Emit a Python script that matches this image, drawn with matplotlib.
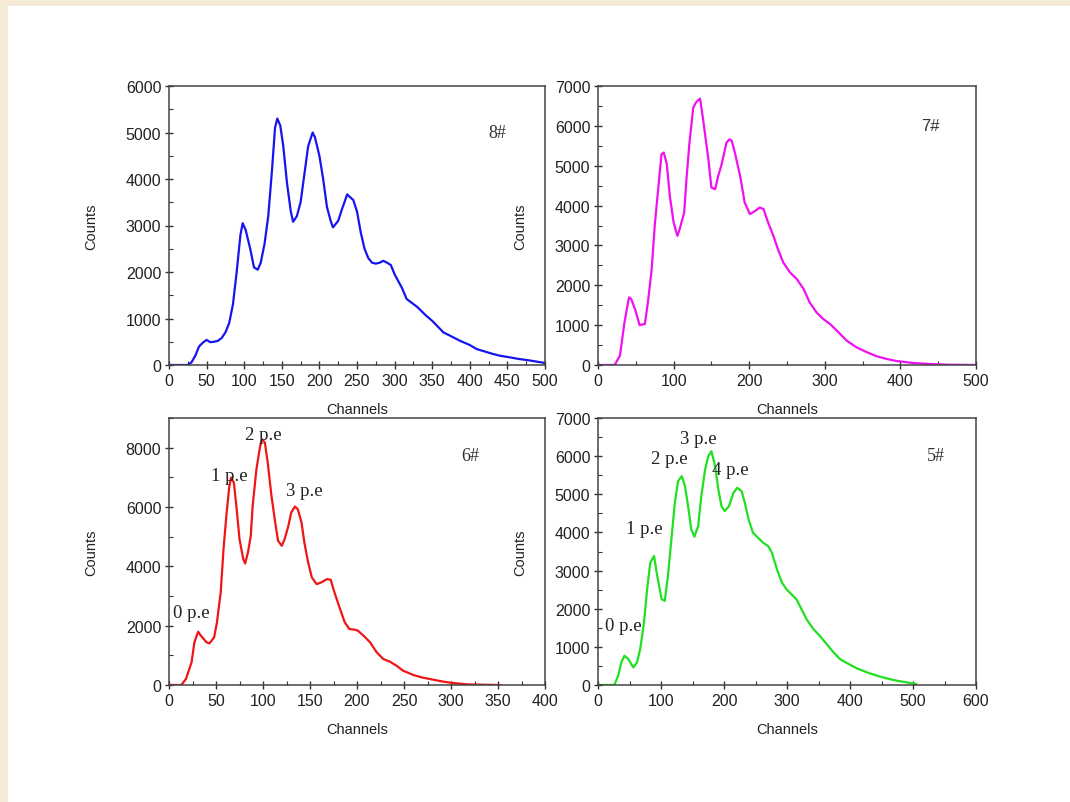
import matplotlib.pyplot as plt
from matplotlib.patches import Rectangle
from matplotlib.ticker import MultipleLocator

plt.rcParams['font.family'] = ['Liberation Sans', 'DejaVu Sans']

# panel 8# (top left)
ch8 = [0, 25, 30, 35, 40, 45, 50, 55, 60, 65, 70, 75, 80, 85, 90, 95, 98, 102, 108, 113,
       118, 122, 127, 132, 137, 141, 144, 148, 152, 157, 162, 165, 170, 175, 180, 185, 191,
       194, 200, 205, 210, 215, 218, 225, 230, 237, 240, 245, 250, 255, 260, 265, 270, 275,
       280, 285, 290, 295, 300, 310, 316, 330, 342, 350, 365, 375, 387, 400, 409, 420, 431,
       440, 453, 465, 476, 490, 500]
cnt8 = [0, 0, 60, 200, 400, 480, 540, 490, 500, 520, 580, 700, 900, 1300, 2000, 2800, 3050,
        2900, 2500, 2100, 2050, 2200, 2600, 3200, 4200, 5100, 5300, 5150, 4700, 3900, 3300,
        3080, 3200, 3500, 4100, 4700, 5000, 4900, 4500, 4000, 3400, 3100, 2960, 3100, 3350,
        3670, 3620, 3550, 3300, 2850, 2500, 2300, 2200, 2180, 2200, 2240, 2200, 2150, 1950,
        1650, 1420, 1250, 1060, 950, 700, 620, 520, 430, 343, 290, 236, 200, 165, 130, 107,
        70, 43]

# panel 7# (top right)
ch7 = [0, 22, 29, 35, 41, 44, 49, 55, 62, 66, 71, 75, 80, 84, 87, 91, 95, 100, 105, 108,
       114, 117, 121, 126, 130, 135, 139, 146, 150, 155, 159, 163, 170, 174, 177, 181, 188,
       194, 201, 208, 214, 219, 225, 232, 238, 245, 254, 263, 272, 280, 289, 298, 307, 316,
       329, 342, 356, 369, 382, 395, 417, 439, 462, 500]
cnt7 = [0, 0, 234, 1069, 1696, 1654, 1400, 1000, 1030, 1570, 2400, 3490, 4494, 5288, 5330,
        5040, 4244, 3576, 3241, 3408, 3826, 4662, 5580, 6458, 6600, 6683, 6165, 5163, 4453,
        4411, 4745, 4996, 5580, 5664, 5622, 5330, 4745, 4077, 3784, 3868, 3952, 3910, 3576,
        3241, 2907, 2573, 2322, 2155, 1905, 1570, 1320, 1153, 1027, 860, 610, 443, 317, 217,
        150, 100, 50, 25, 8, 0]

# panel 6# (bottom left)
ch6 = [0, 13, 18, 24, 27, 31, 34, 40, 43, 48, 51, 55, 58, 61, 64, 66, 69, 72, 75, 79, 81,
       84, 87, 89, 93, 97, 99, 102, 105, 109, 113, 116, 120, 123, 127, 130, 134, 137, 141,
       144, 148, 152, 157, 162, 168, 172, 176, 182, 187, 192, 198, 201, 207, 214, 221, 228,
       235, 242, 249, 260, 270, 281, 292, 302, 317, 331, 352]
cnt6 = [0, 0, 200, 763, 1436, 1796, 1661, 1436, 1403, 1605, 2110, 3120, 4579, 5701, 6655,
        6992, 6824, 5926, 4916, 4243, 4097, 4467, 5028, 6038, 7273, 8058, 8283, 8171, 7497,
        6375, 5477, 4860, 4692, 4916, 5365, 5814, 6016, 5926, 5477, 4804, 4130, 3625, 3401,
        3457, 3569, 3547, 3120, 2559, 2110, 1886, 1863, 1829, 1661, 1436, 1100, 875, 786,
        651, 483, 337, 247, 180, 112, 67, 22, 11, 0]

# panel 5# (bottom right)
ch5 = [0, 26, 32, 37, 42, 48, 56, 62, 67, 73, 78, 83, 89, 94, 101, 106, 111, 117, 122, 127,
       133, 138, 143, 148, 153, 159, 164, 170, 175, 180, 186, 191, 196, 201, 208, 215, 221,
       228, 233, 239, 246, 254, 262, 270, 276, 284, 292, 299, 307, 315, 323, 331, 342, 352,
       363, 374, 384, 395, 411, 427, 443, 458, 474, 490, 505]
cnt5 = [0, 0, 244, 593, 767, 680, 462, 593, 941, 1639, 2511, 3208, 3383, 2860, 2249, 2206,
        2860, 3906, 4778, 5344, 5475, 5214, 4691, 4080, 3888, 4167, 4952, 5650, 5998, 6129,
        5737, 5126, 4691, 4560, 4691, 5039, 5170, 5083, 4778, 4342, 3993, 3862, 3731, 3644,
        3470, 3034, 2685, 2511, 2380, 2249, 1988, 1726, 1465, 1290, 1072, 854, 680, 575, 436,
        331, 244, 174, 113, 70, 26]

W, H = 1070.0, 803.0
fig = plt.figure(figsize=(10.7, 8.03), dpi=100)
fig.patch.set_facecolor('white')
# beige frame strips (top and left)
fig.patches.append(Rectangle((0, 1 - 7 / H), 1, 7 / H, transform=fig.transFigure,
                             facecolor='#F5EAD6', edgecolor='none', zorder=-10))
fig.patches.append(Rectangle((0, 0), 8 / W, 1, transform=fig.transFigure,
                             facecolor='#F5EAD6', edgecolor='none', zorder=-10))

def make_ax(l, t, r, b):
    return fig.add_axes([l / W, 1 - b / H, (r - l) / W, (b - t) / H])

panels = [
    (make_ax(169, 87, 545, 366), ch8, cnt8, '#1515F0', (0, 500), 50, 25, (0, 6000), 1000, 500, '8#', 'serif', (0.872, 0.835)),
    (make_ax(598, 87, 976, 366), ch7, cnt7, '#F010F0', (0, 500), 100, 50, (0, 7000), 1000, 500, '7#', 'sans', (0.878, 0.86)),
    (make_ax(169, 419, 545, 686), ch6, cnt6, '#F01515', (0, 400), 50, 25, (0, 9000), 2000, 1000, '6#', 'serif', (0.80, 0.858)),
    (make_ax(598, 419, 976, 686), ch5, cnt5, '#20E020', (0, 600), 100, 50, (0, 7000), 1000, 500, '5#', 'serif', (0.894, 0.858)),
]

for ax, x, y, col, xl, xmaj, xmin, yl, ymaj, ymin, tag, ff, pos in panels:
    ax.plot(x, y, color=col, lw=1.6)
    ax.set_xlim(*xl)
    ax.set_ylim(*yl)
    ax.xaxis.set_major_locator(MultipleLocator(xmaj))
    ax.xaxis.set_minor_locator(MultipleLocator(xmin))
    ax.yaxis.set_major_locator(MultipleLocator(ymaj))
    ax.yaxis.set_minor_locator(MultipleLocator(ymin))
    ax.tick_params(which='major', direction='inout', length=6, width=1, colors='#333333',
                   labelsize=11.5, labelcolor='#222222', pad=2.5)
    ax.tick_params(which='minor', direction='in', length=3, width=0.8, colors='#333333')
    for s in ax.spines.values():
        s.set_color('#444444')
        s.set_linewidth(1.1)
    ax.set_xlabel('Channels', fontsize=10.5, labelpad=10, color='#222222')
    ax.set_ylabel('Counts', fontsize=10.5, labelpad=20, color='#222222')
    if ff == 'serif':
        ax.text(pos[0], pos[1], tag, transform=ax.transAxes, fontsize=13,
                family='Liberation Serif', color='#333333', ha='center', va='center')
    else:
        ax.text(pos[0], pos[1], tag, transform=ax.transAxes, fontsize=12,
                color='#333333', ha='center', va='center')

ax6 = panels[2][0]
ax5 = panels[3][0]
pe_font = dict(family='Liberation Serif', fontsize=13.5, color='#222222', ha='center', va='center')
for lab, xx, yy in [('0 p.e', 24, 2450), ('1 p.e', 64, 7050), ('2 p.e', 100, 8450), ('3 p.e', 144, 6550)]:
    ax6.text(xx, yy, lab, **pe_font)
for lab, xx, yy in [('0 p.e', 40, 1550), ('1 p.e', 73, 4100), ('2 p.e', 113, 5950),
                    ('3 p.e', 160, 6450), ('4 p.e', 210, 5650)]:
    ax5.text(xx, yy, lab, **pe_font)

fig.savefig('out.png', dpi=100, facecolor=fig.get_facecolor())
